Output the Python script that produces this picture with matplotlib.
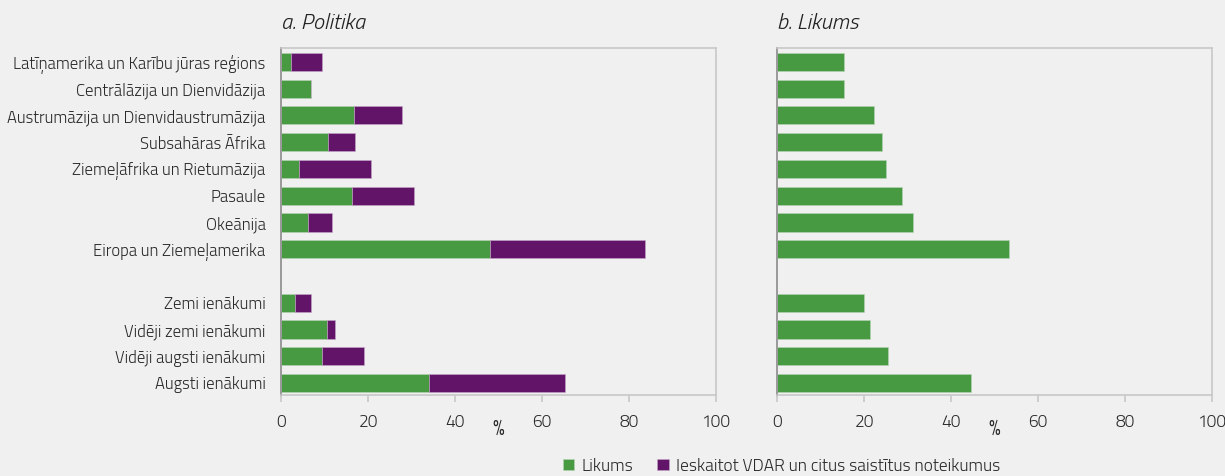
import matplotlib.pyplot as plt

regions = ['Latīņamerika un Karību jūras reģions', 'Centrālāzija un Dienvidāzija',
           'Austrumāzija un Dienvidaustrumāzija', 'Subsahāras Āfrika',
           'Ziemeļāfrika un Rietumāzija', 'Pasaule', 'Okeānija', 'Eiropa un Ziemeļamerika']
incomes = ['Zemi ienākumi', 'Vidēji zemi ienākumi', 'Vidēji augsti ienākumi', 'Augsti ienākumi']

# a. Politika: law share and additional share incl. GDPR etc.
pol_law_reg = [2.3, 7.0, 16.8, 10.7, 4.1, 16.3, 6.2, 48.1]
pol_extra_reg = [7.2, 0.0, 11.1, 6.3, 16.7, 14.2, 5.6, 35.6]
pol_law_inc = [3.3, 10.5, 9.5, 34.0]
pol_extra_inc = [3.6, 2.0, 9.5, 31.3]

# b. Likums
law_reg = [15.3, 15.3, 22.2, 24.1, 25.0, 28.8, 31.3, 53.3]
law_inc = [20.0, 21.3, 25.5, 44.6]

green = '#479a42'
purple = '#611468'
bg = '#f0f0f0'
txt = '#2a2a2a'

plt.rcParams['font.family'] = ['Titillium Web', 'DejaVu Sans']
plt.rcParams['font.weight'] = 300

fig = plt.figure(figsize=(12.25, 4.76), dpi=100, facecolor=bg)
ax1 = fig.add_axes([0.2294, 0.1702, 0.3551, 0.729])
ax2 = fig.add_axes([0.6343, 0.1702, 0.3551, 0.729])

labels = regions + incomes
ypos = list(range(len(regions))) + [len(regions) + 1 + i for i in range(len(incomes))]
law1 = pol_law_reg + pol_law_inc
extra1 = pol_extra_reg + pol_extra_inc
law2 = law_reg + law_inc

ax1.barh(ypos, law1, height=0.68, color=green, edgecolor='#b8d4b5', linewidth=0.4, label='Likums')
ax1.barh(ypos, extra1, left=law1, height=0.68, color=purple, edgecolor='#c6a8c8', linewidth=0.4,
         label='Ieskaitot VDAR un citus saistītus noteikumus')
ax2.barh(ypos, law2, height=0.68, color=green, edgecolor='#b8d4b5', linewidth=0.4)

for ax, title in [(ax1, 'a. Politika'), (ax2, 'b. Likums')]:
    ax.set_facecolor(bg)
    ax.set_xlim(0, 100)
    ax.set_ylim(12.45, -0.52)
    ax.set_xticks([0, 20, 40, 60, 80, 100])
    ax.tick_params(axis='x', colors='#c8c8c8', length=5, width=1.2, labelsize=12.5,
                   labelcolor=txt, pad=9)
    ax.tick_params(axis='y', length=0, pad=11)
    for s in ['top', 'right', 'bottom']:
        ax.spines[s].set_color('#c8c8c8')
        ax.spines[s].set_linewidth(1.2)
    ax.spines['left'].set_color('#999999')
    ax.spines['left'].set_linewidth(1.4)
    ax.set_xlabel('%', fontsize=15, color=txt, labelpad=-9)
    ax.set_title(title, loc='left', fontsize=16, style='italic', weight=300, color='#222222', pad=14)

ax1.set_yticks(ypos)
ax1.set_yticklabels(labels, fontsize=12, color=txt)
ax2.set_yticks([])

fig.legend(loc='lower center', bbox_to_anchor=(0.638, -0.03), ncol=2, frameon=False,
           fontsize=12.5, handlelength=0.65, handleheight=0.65, handletextpad=0.4,
           columnspacing=1.4, labelcolor=txt)

fig.savefig('out.png', dpi=100, facecolor=bg)
